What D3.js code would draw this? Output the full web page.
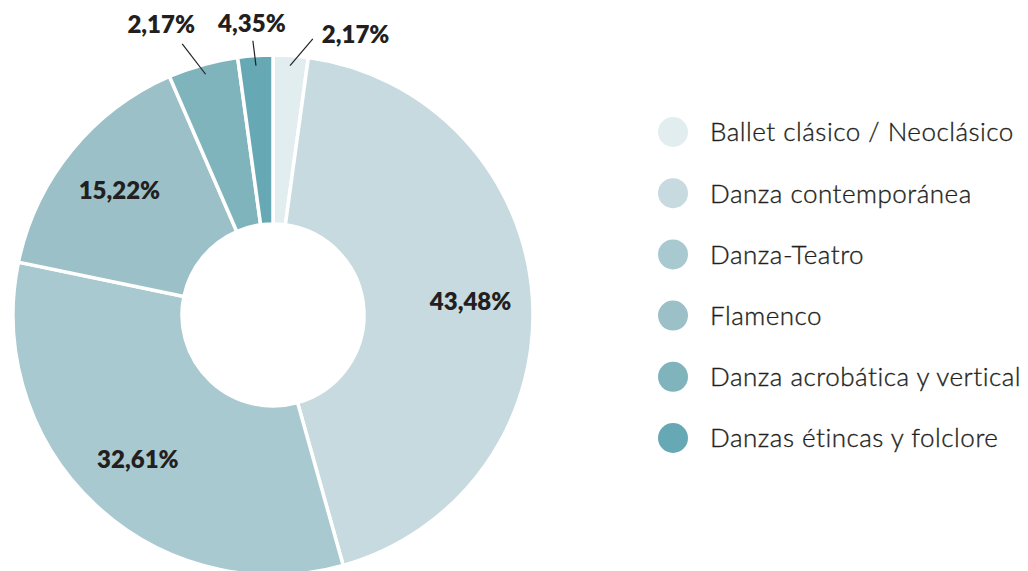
<!DOCTYPE html>
<html>
<head>
<meta charset="utf-8">
<script src="https://cdn.jsdelivr.net/npm/d3@7"></script>
<style>
  body { margin: 0; background: #fff; }
  svg { display: block; }
  text { font-family: Lato, "Open Sans", sans-serif; fill: #231f20; }
</style>
</head>
<body>
<svg width="1028" height="571"></svg>
<script>
// categories, values (share of each slice) and the labels printed on the chart
var categories = ["Ballet clásico / Neoclásico", "Danza contemporánea", "Danza-Teatro",
                  "Flamenco", "Danza acrobática y vertical", "Danzas étincas y folclore"];
var values = [2.17, 43.48, 32.61, 15.22, 4.35, 2.17];
var valueLabels = ["2,17%", "43,48%", "32,61%", "15,22%", "2,17%", "4,35%"];
var colors = ["#e2edf0", "#c6dadf", "#a9c9d0", "#9cc0c8", "#80b4bd", "#66a8b4"];

var svg = d3.select("svg"),
    cx = 273, cy = 315,
    outerR = 260, innerR = 91;

var g = svg.append("g").attr("transform", "translate(" + cx + "," + cy + ")");

var pie = d3.pie().sort(null).value(function(d) { return d; });
var arcs = pie(values);

var arc = d3.arc().innerRadius(innerR).outerRadius(outerR);
var labelArc = d3.arc().innerRadius(198).outerRadius(198);

g.selectAll(".slice")
    .data(arcs)
    .enter().append("path")
    .attr("class", "slice")
    .attr("d", arc)
    .style("fill", function(d, i) { return colors[i]; })
    .style("stroke", "#fff")
    .style("stroke-width", 3.5);

// big slices get the label inside, small ones get a leader line
var small = function(d) { return d.endAngle - d.startAngle < 0.3; };

g.selectAll(".inlabel")
    .data(arcs.filter(function(d) { return !small(d); }))
    .enter().append("text")
    .attr("class", "inlabel")
    .attr("transform", function(d) { return "translate(" + labelArc.centroid(d) + ")"; })
    .attr("dy", "0.36em")
    .attr("text-anchor", "middle")
    .style("font-size", "24px")
    .style("font-weight", 800)
    .text(function(d) { return valueLabels[d.index]; });

function polar(a, r) { return [r * Math.sin(a), -r * Math.cos(a)]; }

// outer end of each leader line (angle offset, radius) and label offsets
var leader = {
  0: { da: 0.075, r: 279, tx: 9, ty: -5, anchor: "start" },
  4: { da: -0.05, r: 286, tx: -21, ty: -19, anchor: "middle" },
  5: { da: -0.005, r: 275, tx: -1, ty: -17, anchor: "middle" }
};

arcs.filter(small).forEach(function(d) {
  var mid = (d.startAngle + d.endAngle) / 2,
      o = leader[d.index],
      p0 = polar(mid, 250),
      p1 = polar(mid + o.da, o.r);
  g.append("line")
      .attr("x1", p0[0]).attr("y1", p0[1])
      .attr("x2", p1[0]).attr("y2", p1[1])
      .style("stroke", "#231f20")
      .style("stroke-width", 1.2);
  g.append("text")
      .attr("x", p1[0] + o.tx)
      .attr("y", p1[1] + o.ty)
      .attr("dy", "0.36em")
      .attr("text-anchor", o.anchor)
      .style("font-size", "24px")
      .style("font-weight", 800)
      .text(valueLabels[d.index]);
});

// legend
var legendY = d3.scalePoint().domain(categories).range([132, 438]);

var legend = svg.selectAll(".legend")
    .data(categories)
    .enter().append("g")
    .attr("class", "legend")
    .attr("transform", function(d) { return "translate(673," + legendY(d) + ")"; });

legend.append("circle")
    .attr("r", 15)
    .style("fill", function(d, i) { return colors[i]; });

legend.append("text")
    .attr("x", 37)
    .attr("dy", "0.36em")
    .style("font-size", "26px")
    .style("font-weight", 300)
    .style("letter-spacing", "0.5px")
    .style("stroke", "#231f20")
    .style("stroke-width", 0.35)
    .text(function(d) { return d; });
</script>
</body>
</html>
